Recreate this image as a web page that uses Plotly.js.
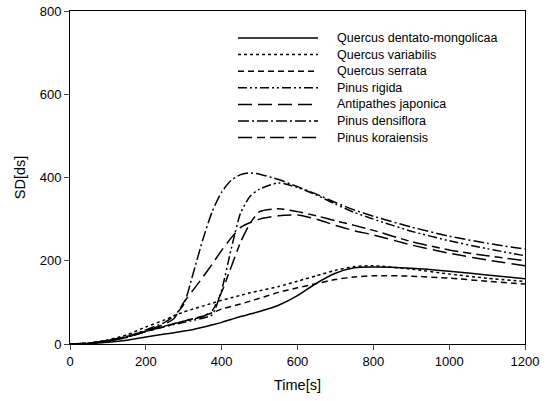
<!DOCTYPE html>
<html>
<head>
<meta charset="utf-8">
<script src="https://cdn.plot.ly/plotly-3.0.1.min.js"></script>
<style>html,body{margin:0;padding:0;background:#fff;}#chart{width:549px;height:401px;}</style>
</head>
<body>
<div id="chart"></div>
<script>
const time = [0,50,100,150,200,250,275,300,325,350,375,400,425,450,475,500,550,600,650,700,750,800,900,1000,1100,1200];

const quercusDentato = [0,1,4,9,17,24,27,31,35,40,46,52,59,66,72,78,93,116,146,170,183,185,182,175,166,157];
const quercusVariabilis = [0,2,10,22,41,58,68,77,84,91,98,105,111,117,123,128,138,151,164,177,186,188,180,168,158,150];
const quercusSerrata = [0,2,8,17,30,42,48,55,61,67,75,84,90,96,103,110,124,135,145,155,161,164,163,158,151,144];
const pinusRigida = [0,2,7,16,30,42,47,52,57,62,70,130,228,315,355,372,387,376,358,336,316,300,271,248,229,212];
const antipathesJaponica = [0,2,8,18,32,48,62,100,130,160,192,225,255,280,292,300,308,310,300,285,272,262,238,218,202,188];
const pinusDensiflora = [0,2,8,18,34,52,68,95,170,250,318,365,393,407,411,408,395,378,360,340,322,307,281,259,242,228];
const pinusKoraiensis = [0,2,7,16,30,43,49,55,60,66,80,125,185,245,290,318,325,318,308,296,285,273,246,226,212,200];

const names = ["Quercus dentato-mongolicaa","Quercus variabilis","Quercus serrata","Pinus rigida","Antipathes japonica","Pinus densiflora","Pinus koraiensis"];
const series = [quercusDentato, quercusVariabilis, quercusSerrata, pinusRigida, antipathesJaponica, pinusDensiflora, pinusKoraiensis];
const dashes = ["solid","dot","6px,4px","9px,3px,2px,3px,2px,3px","14px,6px","11px,3px,2px,3px","14px,5px,8px,5px"];

const traces = series.map((ys, i) => ({
  x: time, y: ys, name: names[i], type: "scatter", mode: "lines", showlegend: false,
  line: {color: "#000", width: 1.5, dash: dashes[i], shape: "spline", smoothing: 0.6}
}));

// Hand-built legend (long sample lines, tight rows like the reference)
const M = {l: 70, r: 24, t: 11, b: 57}, W = 549, H = 401;
const pw = W - M.l - M.r, ph = H - M.t - M.b;
const px = v => (v - M.l) / pw;
const py = v => (H - M.b - v) / ph;
const legTop = 38, legStep = 16.6, legX0 = 238, legX1 = 318, legTextX = 335;
const shapes = names.map((n, i) => ({
  type: "line", xref: "paper", yref: "paper",
  x0: px(legX0), x1: px(legX1), y0: py(legTop + i * legStep), y1: py(legTop + i * legStep),
  line: {color: "#000", width: 1.5, dash: dashes[i]}
}));
const annotations = names.map((n, i) => ({
  text: n, xref: "paper", yref: "paper", x: px(legTextX), y: py(legTop + i * legStep),
  xanchor: "left", yanchor: "middle", showarrow: false, font: {size: 12.5, color: "#000"}
}));

const layout = {
  width: W, height: H,
  margin: M,
  paper_bgcolor: "#fff", plot_bgcolor: "#fff",
  font: {family: "Liberation Sans, Arial, sans-serif", size: 13, color: "#000"},
  showlegend: false,
  shapes: shapes, annotations: annotations,
  xaxis: {range: [0, 1200], tickvals: [0,200,400,600,800,1000,1200], ticks: "outside", ticklen: 5,
          showline: true, linecolor: "#000", linewidth: 1, mirror: true, showgrid: false, zeroline: false,
          title: {text: "Time[s]", font: {size: 14.5}, standoff: 12}},
  yaxis: {range: [0, 800], tickvals: [0,200,400,600,800], ticks: "outside", ticklen: 5,
          showline: true, linecolor: "#000", linewidth: 1, mirror: true, showgrid: false, zeroline: false,
          title: {text: "SD[ds]", font: {size: 14.5}, standoff: 10}}
};

Plotly.newPlot("chart", traces, layout, {displayModeBar: false, staticPlot: true});
</script>
</body>
</html>
